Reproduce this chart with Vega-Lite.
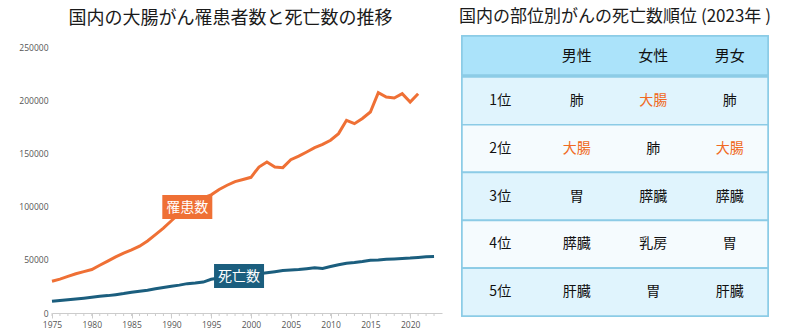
{
  "$schema": "https://vega.github.io/schema/vega-lite/v6.json",
  "padding": {"left": 5, "top": 8, "right": 5, "bottom": 0},
  "background": "white",
  "config": {"view": {"stroke": null}, "font": "Noto Sans CJK JP"},
  "resolve": {"scale": {"color": "independent"}},
  "datasets": {
    "trend": [
      {"year": 1975, "inc": 30000, "dth": 11000},
      {"year": 1976, "inc": 32000, "dth": 11800},
      {"year": 1977, "inc": 34500, "dth": 12600},
      {"year": 1978, "inc": 37000, "dth": 13300},
      {"year": 1979, "inc": 39000, "dth": 14000},
      {"year": 1980, "inc": 41000, "dth": 14800},
      {"year": 1981, "inc": 45000, "dth": 15700},
      {"year": 1982, "inc": 49000, "dth": 16400},
      {"year": 1983, "inc": 53000, "dth": 17300},
      {"year": 1984, "inc": 56500, "dth": 18300},
      {"year": 1985, "inc": 59500, "dth": 19500},
      {"year": 1986, "inc": 63000, "dth": 20500},
      {"year": 1987, "inc": 68000, "dth": 21500},
      {"year": 1988, "inc": 74000, "dth": 22800},
      {"year": 1989, "inc": 80000, "dth": 24000},
      {"year": 1990, "inc": 87000, "dth": 25200},
      {"year": 1991, "inc": 94000, "dth": 26300},
      {"year": 1992, "inc": 100000, "dth": 27700},
      {"year": 1993, "inc": 105000, "dth": 28200},
      {"year": 1994, "inc": 108500, "dth": 29200},
      {"year": 1995, "inc": 111500, "dth": 31800},
      {"year": 1996, "inc": 116500, "dth": 33000},
      {"year": 1997, "inc": 120500, "dth": 34000},
      {"year": 1998, "inc": 124000, "dth": 35000},
      {"year": 1999, "inc": 126000, "dth": 35500},
      {"year": 2000, "inc": 128000, "dth": 36000},
      {"year": 2001, "inc": 137700, "dth": 37000},
      {"year": 2002, "inc": 142400, "dth": 38000},
      {"year": 2003, "inc": 137700, "dth": 39000},
      {"year": 2004, "inc": 137100, "dth": 40000},
      {"year": 2005, "inc": 144600, "dth": 40600},
      {"year": 2006, "inc": 148000, "dth": 41000},
      {"year": 2007, "inc": 151900, "dth": 41800},
      {"year": 2008, "inc": 156000, "dth": 42700},
      {"year": 2009, "inc": 159000, "dth": 42000},
      {"year": 2010, "inc": 163000, "dth": 43800},
      {"year": 2011, "inc": 169200, "dth": 45500},
      {"year": 2012, "inc": 181800, "dth": 47000},
      {"year": 2013, "inc": 178600, "dth": 47600},
      {"year": 2014, "inc": 183500, "dth": 48500},
      {"year": 2015, "inc": 189600, "dth": 49700},
      {"year": 2016, "inc": 207800, "dth": 50000},
      {"year": 2017, "inc": 203800, "dth": 50700},
      {"year": 2018, "inc": 202800, "dth": 51000},
      {"year": 2019, "inc": 206900, "dth": 51400},
      {"year": 2020, "inc": 199000, "dth": 51800},
      {"year": 2021, "inc": 206900, "dth": 52400},
      {"year": 2022, "inc": null, "dth": 53000},
      {"year": 2023, "inc": null, "dth": 53200}
    ],
    "labels": [
      {"series": "inc", "label": "罹患数", "year": 1992, "count": 100000},
      {"series": "dth", "label": "死亡数", "year": 1998.5, "count": 35000}
    ],
    "header": [
      {"col": "順位", "text": ""},
      {"col": "男性", "text": "男性"},
      {"col": "女性", "text": "女性"},
      {"col": "男女", "text": "男女"}
    ],
    "ranks": [
      {"row": "1位", "col": "順位", "text": "1位", "hl": "no"},
      {"row": "1位", "col": "男性", "text": "肺", "hl": "no"},
      {"row": "1位", "col": "女性", "text": "大腸", "hl": "yes"},
      {"row": "1位", "col": "男女", "text": "肺", "hl": "no"},
      {"row": "2位", "col": "順位", "text": "2位", "hl": "no"},
      {"row": "2位", "col": "男性", "text": "大腸", "hl": "yes"},
      {"row": "2位", "col": "女性", "text": "肺", "hl": "no"},
      {"row": "2位", "col": "男女", "text": "大腸", "hl": "yes"},
      {"row": "3位", "col": "順位", "text": "3位", "hl": "no"},
      {"row": "3位", "col": "男性", "text": "胃", "hl": "no"},
      {"row": "3位", "col": "女性", "text": "膵臓", "hl": "no"},
      {"row": "3位", "col": "男女", "text": "膵臓", "hl": "no"},
      {"row": "4位", "col": "順位", "text": "4位", "hl": "no"},
      {"row": "4位", "col": "男性", "text": "膵臓", "hl": "no"},
      {"row": "4位", "col": "女性", "text": "乳房", "hl": "no"},
      {"row": "4位", "col": "男女", "text": "胃", "hl": "no"},
      {"row": "5位", "col": "順位", "text": "5位", "hl": "no"},
      {"row": "5位", "col": "男性", "text": "肝臓", "hl": "no"},
      {"row": "5位", "col": "女性", "text": "胃", "hl": "no"},
      {"row": "5位", "col": "男女", "text": "肝臓", "hl": "no"}
    ]
  },
  "spacing": 17,
  "hconcat": [
    {
      "width": 390,
      "height": 277,
      "title": {"text": "国内の大腸がん罹患者数と死亡数の推移", "fontSize": 18, "fontWeight": "normal", "font": "Noto Sans CJK JP", "color": "#1a1a1a", "anchor": "middle", "frame": "bounds", "offset": 8, "dx": 7},
      "layer": [
        {
          "data": {"name": "trend"},
          "mark": {"type": "rule", "color": "#cccccc", "strokeWidth": 1, "y2Offset": 3},
          "encoding": {
            "x": {"field": "year", "type": "quantitative"},
            "y": {"datum": 0, "type": "quantitative"},
            "y2": {"datum": 0}
          }
        },
        {
          "data": {"name": "trend"},
          "transform": [{"fold": ["inc", "dth"], "as": ["series", "count"]}],
          "mark": {"type": "line", "strokeWidth": 3},
          "encoding": {
            "x": {"field": "year", "type": "quantitative", "scale": {"domain": [1975, 2024], "nice": false, "zero": false},
              "axis": {"title": null, "grid": false, "values": [1975, 1980, 1985, 1990, 1995, 2000, 2005, 2010, 2015, 2020],
                "format": "d", "labelFlush": false, "labelOverlap": false,
                "domainColor": "#cccccc", "tickColor": "#cccccc", "tickSize": 5,
                "labelFont": "Open Sans", "labelFontSize": 8.5, "labelColor": "#555555", "labelPadding": 2}},
            "y": {"field": "count", "type": "quantitative", "scale": {"domain": [0, 261300], "nice": false},
              "axis": {"title": null, "values": [0, 50000, 100000, 150000, 200000, 250000], "format": "d", "domain": false, "ticks": false,
                "labelFont": "Open Sans", "labelFontSize": 8.5, "labelColor": "#555555", "labelPadding": 4, "minExtent": 47, "gridColor": "#dddddd", "gridWidth": 1}},
            "color": {"field": "series", "type": "nominal", "scale": {"domain": ["inc", "dth"], "range": ["#ef7035", "#1b5e7e"]}, "legend": null}
          }
        },
        {
          "data": {"name": "labels"},
          "mark": {"type": "point", "shape": "M-1,-0.48H1V0.48H-1Z", "filled": true, "opacity": 1, "size": 2500, "strokeWidth": 0},
          "encoding": {
            "x": {"field": "year", "type": "quantitative"},
            "y": {"field": "count", "type": "quantitative"},
            "color": {"field": "series", "type": "nominal", "legend": null}
          }
        },
        {
          "data": {"name": "labels"},
          "mark": {"type": "text", "color": "white", "fontSize": 14, "font": "Noto Sans CJK JP", "align": "center", "baseline": "middle", "dy": 1},
          "encoding": {
            "x": {"field": "year", "type": "quantitative"},
            "y": {"field": "count", "type": "quantitative"},
            "text": {"field": "label"}
          }
        }
      ]
    },
    {
      "title": {"text": "国内の部位別がんの死亡数順位 (2023年 )", "fontSize": 17, "fontWeight": "normal", "font": "Noto Sans CJK JP", "color": "#1a1a1a", "anchor": "middle", "offset": 9},
      "spacing": 0,
      "vconcat": [
        {
          "width": 306,
          "height": 39,
          "data": {"name": "header"},
          "layer": [
            {
              "mark": {"type": "rect", "fill": "#abe3fa", "stroke": "#8ccbe6", "strokeWidth": 1.5},
              "encoding": {"y": {"datum": "h", "type": "nominal", "scale": {"paddingInner": 0, "paddingOuter": 0}, "axis": null}}
            },
            {
              "mark": {"type": "text", "fontSize": 15, "color": "#111111", "font": "Noto Sans CJK JP", "baseline": "middle"},
              "encoding": {
                "x": {"field": "col", "type": "nominal", "sort": null, "scale": {"domain": ["順位", "男性", "女性", "男女"], "paddingInner": 0, "paddingOuter": 0}, "axis": null},
                "text": {"field": "text"}
              }
            }
          ]
        },
        {
          "width": 306,
          "height": 239,
          "data": {"name": "ranks"},
          "layer": [
            {
              "mark": {"type": "rect", "stroke": "#8ccbe6", "strokeWidth": 1.5},
              "encoding": {
                "y": {"field": "row", "type": "nominal", "scale": {"domain": ["1位", "2位", "3位", "4位", "5位"], "paddingInner": 0, "paddingOuter": 0}, "axis": null},
                "fill": {"field": "row", "type": "nominal", "scale": {"domain": ["1位", "2位", "3位", "4位", "5位"], "range": ["#e0f4fd", "#f5fbfe", "#e0f4fd", "#f5fbfe", "#e0f4fd"]}, "legend": null}
              }
            },
            {
              "mark": {"type": "text", "fontSize": 14, "font": "Noto Sans CJK JP", "baseline": "middle"},
              "encoding": {
                "x": {"field": "col", "type": "nominal", "scale": {"domain": ["順位", "男性", "女性", "男女"], "paddingInner": 0, "paddingOuter": 0}, "axis": null},
                "y": {"field": "row", "type": "nominal", "axis": null},
                "text": {"field": "text"},
                "color": {"condition": {"test": "datum.hl === 'yes'", "value": "#f06a24"}, "value": "#111111"}
              }
            }
          ]
        }
      ]
    }
  ]
}
